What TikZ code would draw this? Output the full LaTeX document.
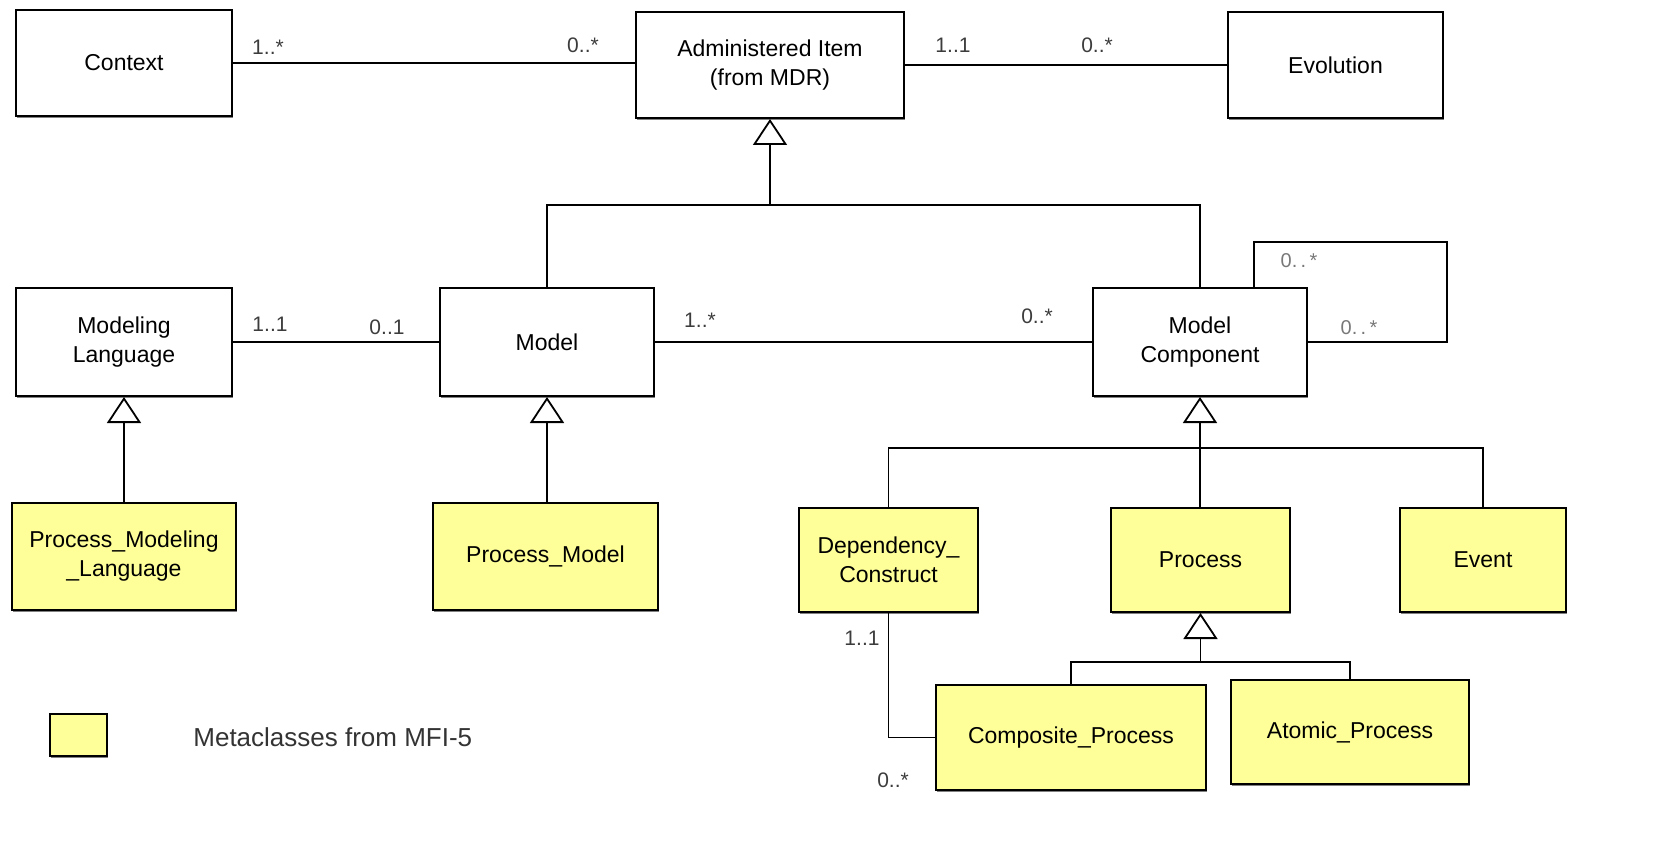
\documentclass[tikz,border=0pt]{standalone}
\usepackage{fontspec}
\setmainfont{Liberation Sans}
\usetikzlibrary{arrows.meta,shadows}
\definecolor{mfiyellow}{RGB}{255,255,153}
\definecolor{multgray}{RGB}{60,60,60}
\definecolor{loopgray}{RGB}{120,120,120}
\begin{document}
\begin{tikzpicture}[x=0.5pt,y=-0.5pt,
  cls/.style={draw=black,line width=1pt,fill=white,inner sep=0pt,align=center,
    font=\fontsize{11.5}{14.5}\selectfont,
    drop shadow={shadow xshift=0.5pt,shadow yshift=-0.8pt,opacity=0.7,fill=black!70}},
  mfi/.style={cls,fill=mfiyellow},
  mult/.style={inner sep=0pt,text=multgray,font=\fontsize{10.5}{12}\selectfont},
  loopmult/.style={inner sep=0pt,text=loopgray,font=\fontsize{10}{12}\selectfont},
  assoc/.style={line width=0.9pt},
  gen/.style={line width=0.9pt,-{Triangle[open,fill=white,width=17pt,length=13pt]}}]
\useasboundingbox (0,0) rectangle (1676,845);

% classes
\node[cls,minimum width=108pt,minimum height=53pt] (ctx) at (124,63) {Context};
\node[cls,minimum width=134pt,minimum height=53pt] (adm) at (770,65) {Administered Item\\(from MDR)};
\node[cls,minimum width=107.5pt,minimum height=53pt] (evo) at (1335.5,65) {Evolution};
\node[cls,minimum width=108pt,minimum height=54pt] (ml) at (124,342) {Modeling\\Language};
\node[cls,minimum width=107pt,minimum height=54pt] (mdl) at (547,342) {Model};
\node[cls,minimum width=107pt,minimum height=54pt] (mc) at (1200,342) {Model\\Component};

% metaclasses from MFI-5
\node[mfi,minimum width=112pt,minimum height=53.5pt] (pml) at (124,556.5) {Process\_Modeling\\\_Language};
\node[mfi,minimum width=112.5pt,minimum height=53.5pt] (pm) at (545.5,556.5) {Process\_Model};
\node[mfi,minimum width=89.5pt,minimum height=52pt] (dc) at (888.5,560) {Dependency\_\\Construct};
\node[mfi,minimum width=89.5pt,minimum height=52pt] (proc) at (1200.5,560) {Process};
\node[mfi,minimum width=83pt,minimum height=52pt] (evt) at (1483,560) {Event};
\node[mfi,minimum width=135pt,minimum height=52.5pt] (cp) at (1071,737.5) {Composite\_Process};
\node[mfi,minimum width=119pt,minimum height=52pt] (ap) at (1350,732) {Atomic\_Process};

% legend
\node[mfi,minimum width=28.5pt,minimum height=21pt] (key) at (78.5,735) {};
\node[anchor=west,inner sep=0pt,text=black!80,font=\fontsize{13}{15}\selectfont] (keytext) at (193,737) {Metaclasses from MFI-5};

% associations
\draw[assoc] (ctx.east) -- (ctx.east -| adm.west);
\draw[assoc] (adm.east) -- (evo.west);
\draw[assoc] (ml.east) -- (mdl.west);
\draw[assoc] (mdl.east) -- (mc.west);
\draw[assoc] ([xshift=-27pt]mc.north east) |- (1447,242) |- (mc.east);
\draw[assoc] (dc.south) |- (cp.west);

\node[mult] (m1) at (268,47) {1..*};
\node[mult] (m2) at (583,45) {0..*};
\node[mult] (m3) at (953,45) {1..1};
\node[mult] (m4) at (1097,45) {0..*};
\node[mult] (m5) at (270,324) {1..1};
\node[mult] (m6) at (387,327) {0..1};
\node[mult] (m7) at (700,320) {1..*};
\node[mult] (m8) at (1037,316) {0..*};
\node[loopmult] (m9) at (1299,261) {0.\,.\,*};
\node[loopmult] (m10) at (1359,328) {0.\,.\,*};
\node[mult] (m11) at (862,638) {1..1};
\node[mult] (m12) at (893,780) {0..*};

% generalizations
\coordinate (admj) at (770,205);
\draw[assoc] (mdl.north) |- (admj) -| (mc.north);
\draw[gen] (admj) -- (adm.south);
\draw[gen] (pml.north) -- (ml.south);
\draw[gen] (pm.north -| mdl.south) -- (mdl.south);
\coordinate (mcj) at (1200,448);
\draw[assoc] (dc.north) |- (mcj) -| (evt.north);
\draw[gen] (proc.north -| mc.south) -- (mc.south);
\coordinate (procj) at (1200.5,662);
\draw[assoc] (cp.north) |- (procj) -| (ap.north);
\draw[gen] (procj) -- (proc.south);

\end{tikzpicture}
\end{document}
